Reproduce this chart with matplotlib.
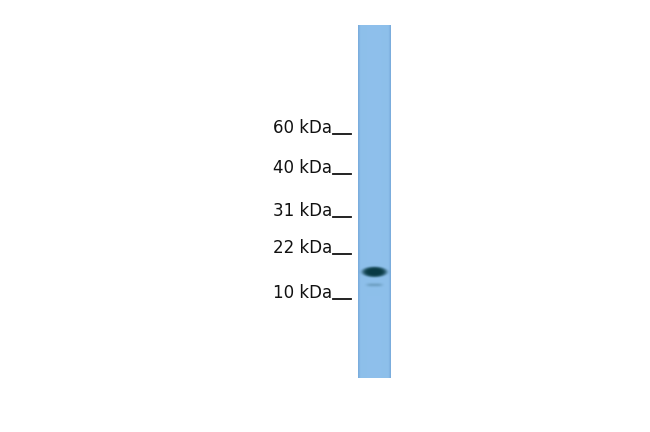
import numpy as np
import matplotlib
matplotlib.use("Agg")
import matplotlib.pyplot as plt

# Marker labels (kDa) and their vertical pixel positions in the blot image
marker_labels = ["60 kDa", "40 kDa", "31 kDa", "22 kDa", "10 kDa"]
marker_y = [128, 168, 211, 248, 293]

# Detected bands: (y center, intensity)
band_y = [272, 285]
band_strength = [1.0, 0.22]

fig = plt.figure(figsize=(6.5, 4.32), dpi=100)
ax = fig.add_axes([0, 0, 1, 1])
ax.set_xlim(0, 650)
ax.set_ylim(432, 0)
ax.axis("off")

# lane image
x0, x1, y0, y1 = 358, 391, 25, 378
W, H = 66, 706
xs = np.linspace(x0, x1, W)
ys = np.linspace(y0, y1, H)
X, Y = np.meshgrid(xs, ys)
base = np.array([142, 192, 235]) / 255.0
edge = np.array([122, 172, 220]) / 255.0
dark = np.array([8, 58, 68]) / 255.0
img = np.ones((H, W, 3)) * base
ef = np.exp(-((X - x0) / 1.5) ** 2) + np.exp(-((X - x1) / 1.5) ** 2)
ef = np.clip(ef, 0, 1)[..., None]
img = img * (1 - ef) + edge * ef
cx = 374.5
for by, s in zip(band_y, band_strength):
    if s > 0.5:
        r = ((X - cx) / 12.5) ** 2 + ((Y - by) / 5.2) ** 2
        prof = np.exp(-r ** 3)
    else:
        prof = np.exp(-(((X - cx) / 8) ** 4)) * np.exp(-(((Y - by) / 1.8) ** 2))
    a = np.clip(prof * s * 1.0, 0, 1)[..., None]
    img = img * (1 - a) + dark * a
ax.imshow(img, extent=[x0, x1, y1, y0], aspect="auto", interpolation="bilinear")

for lab, y in zip(marker_labels, marker_y):
    ax.text(332, y, lab, ha="right", va="center", fontsize=12,
            color="#111111", family="DejaVu Sans")
    ax.plot([333, 351], [y + 6, y + 6], color="#111111", lw=1.3)

fig.savefig("out.png", dpi=100)
